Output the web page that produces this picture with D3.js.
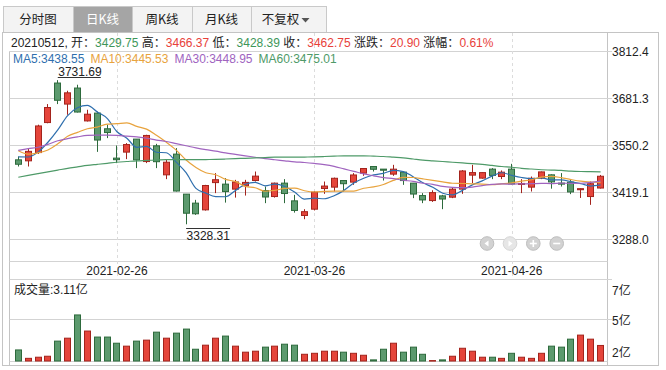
<!DOCTYPE html>
<html><head><meta charset="utf-8">
<script src="https://cdn.jsdelivr.net/npm/d3@7/dist/d3.min.js"></script>
<style>
body{margin:0;background:#fff;}
svg text{font-family:"Liberation Sans",Arial,"Noto Sans CJK SC",sans-serif;}
</style></head><body>
<svg id="c" width="666" height="370"></svg>
<script>
const dates = ["2021-02-05","2021-02-08","2021-02-09","2021-02-10","2021-02-18","2021-02-19","2021-02-22","2021-02-23","2021-02-24","2021-02-25","2021-02-26",
"2021-03-01","2021-03-02","2021-03-03","2021-03-04","2021-03-05","2021-03-08","2021-03-09","2021-03-10","2021-03-11","2021-03-12","2021-03-15","2021-03-16","2021-03-17","2021-03-18","2021-03-19","2021-03-22","2021-03-23","2021-03-24","2021-03-25","2021-03-26","2021-03-29","2021-03-30","2021-03-31",
"2021-04-01","2021-04-02","2021-04-06","2021-04-07","2021-04-08","2021-04-09","2021-04-12","2021-04-13","2021-04-14","2021-04-15","2021-04-16","2021-04-19","2021-04-20","2021-04-21","2021-04-22","2021-04-23","2021-04-26","2021-04-27","2021-04-28","2021-04-29","2021-04-30",
"2021-05-06","2021-05-07","2021-05-10","2021-05-11","2021-05-12"];
const opens = [3508.7,3505.9,3529,3613,3723.6,3664.7,3709.6,3617.6,3639.5,3595.6,3513.5,3530.3,3566.7,3503.9,3547.9,3466.7,3524.7,3412.7,3387.5,3368.7,
3445,3440.7,3426.7,3436,3450.8,3422.7,3406,3443.5,3393.9,3353,3370.6,3428.4,3432.3,3450.8,3446.3,3471.5,3490,3482.7,3468.7,3474.3,
3443.5,3408.7,3394.7,3407.9,3404.2,3426.7,3465.9,3457.5,3482.7,3462,3482.7,3440.5,3432.3,3457.5,3466.7,3443.5,3446.3,3425,3406,3429.75];
const highs = [3518,3541.5,3607,3664.7,3731.69,3702,3718.8,3648.8,3644,3606.8,3548.8,3555.5,3566.7,3578.8,3553.5,3508.7,3541.5,3412.7,3396.7,3438.7,
3471.5,3457.5,3452.7,3452.7,3476,3434,3445,3454.7,3410.7,3370.6,3420,3448,3459,3450.8,3471.5,3485.5,3490,3482.7,3494.7,3476,
3443.5,3415.5,3423.5,3410.7,3432,3480,3494.7,3473.5,3485.5,3479,3497.5,3454.7,3462,3476,3468,3471.5,3454.7,3429,3448,3466.37];
const lows = [3490,3490,3525,3611,3664.7,3634.8,3641.2,3616,3531,3569.5,3499.5,3510.7,3485.5,3499.5,3485.5,3454.7,3420,3328.31,3354.7,3366.7,
3415.5,3389,3403,3408.7,3448,3387.5,3403,3387.5,3361,3342.6,3367,3413.5,3420,3420,3438.7,3463.9,3476,3450.8,3463.9,3438.7,
3401.5,3387.5,3391,3370.6,3401.5,3413.5,3443.5,3456,3454.7,3454.7,3440,3415.5,3420,3454.7,3428,3434,3412.7,3402,3382.7,3428.39];
const closes = [3496.33,3532.44,3603.49,3655.09,3675.36,3696.17,3642.44,3636.36,3564.08,3585.05,3509.08,3551.40,3508.59,3576.90,3503.49,3501.99,3421.41,3359.29,3357.74,3436.83,
3453.08,3419.95,3446.73,3445.55,3463.07,3404.66,3443.44,3414.41,3367.06,3363.59,3418.33,3435.30,3457.07,3441.91,3466.33,3484.39,3482.22,3479.63,3482.55,3450.68,
3412.95,3396.47,3416.93,3398.99,3426.62,3477.55,3472.94,3472.94,3465.11,3474.17,3441.17,3442.61,3457.07,3474.90,3446.86,3441.28,3418.87,3427.99,3441.85,3462.75];
// volume in 亿
const volumes = [2.79,2.19,2.27,2.34,3.42,3.63,5.29,4.14,3.71,3.71,3.27,3.06,3.42,3.49,4.06,3.63,3.99,4.28,2.84,3.13,
3.63,3.78,3.06,2.63,2.70,2.99,3.06,3.20,3.13,2.48,2.55,2.70,2.70,2.63,2.55,2.41,2.08,2.84,3.27,2.63,
2.99,2.48,2.03,2.08,2.34,2.91,2.70,2.27,2.27,2.19,2.55,2.27,2.19,2.55,3.06,2.99,3.56,3.85,3.56,3.11];
const ma5 = [3516.85,3516.61,3530.29,3557.84,3592.54,3632.51,3654.51,3661.08,3642.88,3624.82,3587.40,3569.19,3543.64,3546.20,3529.89,3528.47,3502.48,3472.62,3428.78,3415.45,
3405.67,3405.38,3422.87,3440.43,3445.68,3435.99,3440.69,3434.23,3418.53,3398.63,3401.37,3399.74,3408.27,3423.24,3443.79,3457.00,3466.38,3470.90,3479.02,3475.89,
3461.61,3444.46,3431.92,3415.20,3410.39,3423.31,3438.61,3449.81,3463.03,3472.54,3465.27,3459.20,3456.03,3457.98,3452.52,3452.54,3447.80,3441.98,3435.37,3438.55];
const ma10 = [3533.95,3524.77,3528.18,3536.35,3553.37,3574.68,3585.56,3595.69,3600.36,3608.68,3609.96,3611.85,3602.36,3594.54,3577.36,3557.94,3535.84,3508.13,3487.49,3472.67,
3467.07,3453.93,3447.74,3434.61,3430.56,3420.83,3423.03,3428.55,3429.48,3422.15,3418.68,3420.21,3421.25,3420.88,3421.21,3429.18,3433.06,3439.58,3451.13,3459.84,
3459.30,3455.42,3451.41,3447.11,3443.14,3442.46,3441.53,3440.86,3439.12,3441.47,3444.29,3448.90,3452.92,3460.51,3462.53,3458.91,3453.50,3449.00,3446.68,3445.53];
const ma30 = [3535,3540,3544,3552,3562,3568,3573,3577,3578,3578,3577,3575,3573,3569,3564,3560,3554,3548,3542,3537,
3533,3528,3524,3520,3516,3512,3509,3506,3503,3501.17,3498.57,3495.33,3490.45,3483.34,3476.38,3469.32,3463.98,3458.75,3456.03,3451.56,
3448.35,3443.19,3440.13,3434.20,3431.64,3430.82,3432.54,3436.33,3439.91,3441.15,3440.76,3441.51,3441.86,3442.84,3442.30,3443.52,3442.70,3443.15,3445.64,3448.95];
const ma60 = [3460,3465,3470,3475,3480,3485,3489,3493,3496,3499,3502,3504,3506,3507,3508,3509,3509,3509,3509,3509.5,
3510,3511,3512,3513,3514,3515,3516,3516,3516,3516.5,3517,3518,3519,3520,3520,3520,3519,3518,3516,3514,
3511,3508,3506,3504,3502,3500,3498,3496,3493,3490,3488,3485,3483,3481,3480,3479,3477,3476,3475.5,3475.01];
const priceTicks = [3288.0,3419.1,3550.2,3681.3,3812.4];
const volTicks = [2,5,7];
const dateTicks = ["2021-02-26","2021-03-26","2021-04-26"];
const tabs = ["分时图","日K线","周K线","月K线","不复权"];
const maNames = ["MA5","MA10","MA30","MA60"];

const svg = d3.select("#c");
const UP_F="#e5453b", UP_S="#a3231c", DN_F="#5c9a6e", DN_S="#2d6a3c";
const GRID="#d3d3d3", FRAME="#c4c4c4", TXT="#222";
const maColors = ["#2f6fae","#e8a33d","#a064bf","#4e9a68"];

const left = 9.5, right = 607.5;
const x = d3.scalePoint().domain(dates).range([18.3, 600.6]);
const yP = d3.scaleLinear().domain([3288.0, 3812.4]).range([238.7, 51.3]);
const yV = d3.scaleLinear().domain([2, 7]).range([361, 291]);

// tabs
const tabX = [[3,70],[73,59],[132,60],[192,59],[251,75]];
tabs.forEach((t,i)=>{
  const [tx,tw]=tabX[i];
  svg.append("rect").attr("x",tx+0.5).attr("y",6.5).attr("width",tw).attr("height",26)
    .attr("fill", i===1?"#a5a5a5":"#f3f3f3").attr("stroke","#c9c9c9");
  const cx = i===4? tx+tw/2-8 : tx+tw/2;
  svg.append("text").attr("x",cx).attr("y",24).attr("text-anchor","middle")
    .attr("font-size",12.5).attr("fill", i===1?"#fff":"#222")
    .style("font-family","'Noto Sans CJK SC','Liberation Sans',sans-serif").text(t);
});
svg.append("path").attr("d","M301.5,18 L309.5,18 L305.5,22.5 Z").attr("fill","#555");

// frame
svg.append("rect").attr("x",2.5).attr("y",32.5).attr("width",656).attr("height",333).attr("fill","none").attr("stroke",FRAME);
svg.append("line").attr("x1",right).attr("x2",right).attr("y1",32.5).attr("y2",365.5).attr("stroke",FRAME);
svg.append("line").attr("x1",left).attr("x2",left).attr("y1",51.3).attr("y2",365.5).attr("stroke",FRAME);

// price gridlines + labels
priceTicks.forEach(p=>{
  const yy = Math.round(yP(p))+0.5;
  svg.append("line").attr("x1",left).attr("x2",612).attr("y1",yy).attr("y2",yy).attr("stroke",GRID);
  svg.append("text").attr("x",612).attr("y",yy+4.5).attr("font-size",12).attr("fill",TXT).text(p.toFixed(1));
});
// panel borders
svg.append("line").attr("x1",left).attr("x2",right).attr("y1",261.5).attr("y2",261.5).attr("stroke",GRID);
svg.append("line").attr("x1",left).attr("x2",612).attr("y1",279.5).attr("y2",279.5).attr("stroke",GRID);
svg.append("line").attr("x1",left).attr("x2",right).attr("y1",361.5).attr("y2",361.5).attr("stroke",GRID);

// date dashed lines & labels
dateTicks.forEach(d=>{
  const xx = Math.round(x(d))+0.5;
  svg.append("line").attr("x1",xx).attr("x2",xx).attr("y1",33).attr("y2",279).attr("stroke","#dcdcdc").attr("stroke-dasharray","3,3");
  svg.append("text").attr("x",x(d)).attr("y",274.5).attr("text-anchor","middle").attr("font-size",12).attr("fill",TXT).text(d);
});

// volume grid & labels
const vg = Math.round(yV(5))+0.5;
svg.append("line").attr("x1",left).attr("x2",612).attr("y1",vg).attr("y2",vg).attr("stroke",GRID);
const volLabY = {7:295, 5:325, 2:356.5};
volTicks.forEach(v=>{
  svg.append("text").attr("x",612).attr("y",volLabY[v]).attr("font-size",12).attr("fill",TXT)
    .style("font-family","'Liberation Sans','Noto Sans CJK SC',sans-serif").text(v+"亿");
});

// info line
const info = svg.append("text").attr("x",11).attr("y",46.5).attr("font-size",12)
  .style("font-family","'Liberation Sans','Noto Sans CJK SC',sans-serif");
const G="#3e9659", R="#e8413a";
const last = dates.length-1;
const chg = closes[last]-closes[last-1];
const segs = [["20210512, 开：",TXT],[opens[last].toFixed(2),G],[" 高：",TXT],[highs[last].toFixed(2),R],[" 低：",TXT],[lows[last].toFixed(2),G],
  [" 收：",TXT],[closes[last].toFixed(2),R],[" 涨跌：",TXT],[chg.toFixed(2),R],[" 涨幅：",TXT],[(chg/closes[last-1]*100).toFixed(2)+"%",R]];
segs.forEach(s=>info.append("tspan").attr("fill",s[1]).text(s[0]));

// MA legend
const mas=[ma5,ma10,ma30,ma60];
const legend = svg.append("text").attr("x",13).attr("y",62.5).attr("font-size",12);
mas.forEach((m,i)=>{
  legend.append("tspan").attr("fill",maColors[i]).attr("dx", i? 6:0).text(maNames[i]+":"+m[last].toFixed(2));
});

// candles
const g = svg.append("g");
dates.forEach((d,i)=>{
  const up = closes[i] >= opens[i];
  const bx = Math.round(x(d)-3.5)+0.5;
  const cx = bx+3;
  const top = yP(Math.max(opens[i],closes[i])), bot = yP(Math.min(opens[i],closes[i]));
  g.append("line").attr("x1",cx).attr("x2",cx).attr("y1",yP(highs[i])).attr("y2",yP(lows[i])).attr("stroke",up?UP_S:DN_S);
  g.append("rect").attr("x",bx).attr("y",top).attr("width",6).attr("height",Math.max(1,bot-top))
    .attr("fill",up?UP_F:DN_F).attr("stroke",up?UP_S:DN_S);
  // volume
  g.append("rect").attr("x",bx).attr("y",yV(volumes[i])).attr("width",6).attr("height",Math.max(0.5,361-yV(volumes[i])))
    .attr("fill",up?UP_F:DN_F).attr("stroke",up?UP_S:DN_S);
});

// MA lines
mas.forEach((m,k)=>{
  svg.append("path").datum(m).attr("fill","none").attr("stroke",maColors[k]).attr("stroke-width",1.2)
    .attr("d", d3.line().x((v,i)=>x(dates[i])).y(v=>yP(v)).curve(d3.curveMonotoneX));
});

// high / low markers
const hi = d3.maxIndex(highs), lo = d3.minIndex(lows);
const hx = x(dates[hi]);
svg.append("line").attr("x1",hx).attr("x2",hx+43).attr("y1",77.5).attr("y2",77.5).attr("stroke","#333");
svg.append("text").attr("x",hx+0.5).attr("y",76).attr("font-size",12).attr("fill",TXT).text(highs[hi].toFixed(2));
const lx = x(dates[lo]), ly = yP(lows[lo])+4;
svg.append("line").attr("x1",lx).attr("x2",lx+44).attr("y1",Math.round(ly)+0.5).attr("y2",Math.round(ly)+0.5).attr("stroke","#333");
svg.append("text").attr("x",lx+0.5).attr("y",ly+11.5).attr("font-size",12).attr("fill",TXT).text(lows[lo].toFixed(2));

// nav buttons
const nav = [[487,"L"],[510,"R"],[533.3,"+"],[556.7,"-"]];
nav.forEach(([nx,t])=>{
  const dis = t==="R";
  svg.append("circle").attr("cx",nx).attr("cy",243.5).attr("r",6.8).attr("fill",dis?"#e6e6e6":"#d2d2d2").attr("stroke",dis?"#d6d6d6":"#bdbdbd");
  const c = "#fff";
  if(t==="L") svg.append("path").attr("d",`M${nx-2.5},243.5 L${nx+1.5},240.5 L${nx+1.5},246.5 Z`).attr("fill",c);
  if(t==="R") svg.append("path").attr("d",`M${nx+2.5},243.5 L${nx-1.5},240.5 L${nx-1.5},246.5 Z`).attr("fill",c);
  if(t==="+"||t==="-") svg.append("line").attr("x1",nx-3.5).attr("x2",nx+3.5).attr("y1",243.5).attr("y2",243.5).attr("stroke",c).attr("stroke-width",1.6);
  if(t==="+") svg.append("line").attr("x1",nx).attr("x2",nx).attr("y1",240).attr("y2",247).attr("stroke",c).attr("stroke-width",1.6);
});

// volume label
svg.append("text").attr("x",14).attr("y",294).attr("font-size",12).attr("fill",TXT)
  .style("font-family","'Liberation Sans','Noto Sans CJK SC',sans-serif").text("成交量:"+volumes[last].toFixed(2)+"亿");
</script></body></html>
